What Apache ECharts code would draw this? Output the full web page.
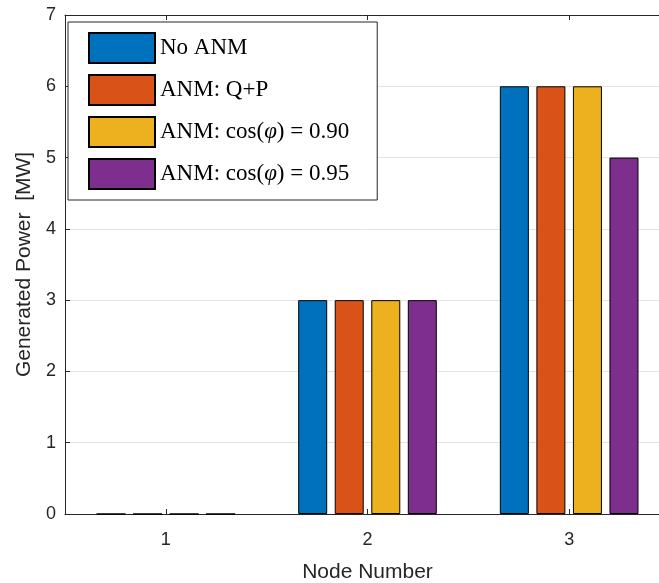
<!DOCTYPE html>
<html>
<head>
<meta charset="utf-8">
<title>Generated Power per Node</title>
<script src="https://cdn.jsdelivr.net/npm/echarts@6/dist/echarts.min.js"></script>
<style>
  html, body { margin: 0; padding: 0; background: #fff; overflow: hidden; }
  #chart { width: 659px; height: 583px; }
</style>
</head>
<body>
<div id="chart"></div>
<script>
// Node numbers on the x axis
const nodes = ['1', '2', '3'];

// Generated power per node [MW] for each control scheme
const noANM = [0, 3, 6];
const anmQP = [0, 3, 6];
const anmCos090 = [0, 3, 6];
const anmCos095 = [0, 3, 5];

const seriesNames = ['No ANM', 'ANM: Q+P', 'ANM: cos(φ) = 0.90', 'ANM: cos(φ) = 0.95'];
const seriesColors = ['#0072BD', '#D95319', '#EDB120', '#7E2F8E'];
const seriesValues = [noANM, anmQP, anmCos090, anmCos095];

const axisColor = '#262626';
const sansFont = 'Liberation Sans, Arial, sans-serif';
const serifFont = 'Liberation Serif, Times New Roman, serif';

const chart = echarts.init(document.getElementById('chart'), null, { renderer: 'canvas' });

chart.setOption({
  animation: false,
  backgroundColor: '#fff',
  // the plot box runs past the right edge of the canvas
  grid: { left: 65, top: 15, width: 605, height: 499, outerBoundsMode: 'none', containLabel: false },
  legend: {
    orient: 'vertical',
    left: 68,
    top: 22,
    padding: [10, 28, 10, 20],
    icon: 'rect',
    itemWidth: 66,
    itemHeight: 30,
    itemGap: 10,
    backgroundColor: '#fff',
    borderColor: '#262626',
    borderWidth: 1,
    data: seriesNames,
    formatter: name => name.replace('φ', '{i|φ}'),
    textStyle: {
      fontFamily: serifFont,
      fontSize: 23,
      lineHeight: 28,
      color: '#000',
      rich: {
        i: { fontFamily: serifFont, fontSize: 23, lineHeight: 28, fontStyle: 'italic', color: '#000' }
      }
    }
  },
  xAxis: [
    {
      type: 'category',
      data: nodes,
      position: 'bottom',
      name: 'Node Number',
      nameLocation: 'middle',
      nameGap: 48,
      nameTextStyle: { fontFamily: sansFont, fontSize: 21, color: axisColor },
      axisLine: { show: true, lineStyle: { color: axisColor, width: 1 } },
      axisTick: { show: true, inside: true, alignWithLabel: true, length: 5, lineStyle: { color: axisColor } },
      axisLabel: { fontFamily: sansFont, fontSize: 18, color: axisColor, margin: 17 },
      splitLine: { show: false }
    },
    {
      type: 'category',
      data: nodes,
      position: 'top',
      axisLine: { show: true, lineStyle: { color: axisColor, width: 1 } },
      axisTick: { show: true, inside: true, alignWithLabel: true, length: 5, lineStyle: { color: axisColor } },
      axisLabel: { show: false },
      splitLine: { show: false }
    }
  ],
  yAxis: {
    type: 'value',
    min: 0,
    max: 7,
    interval: 1,
    name: 'Generated Power  [MW]',
    nameLocation: 'middle',
    nameGap: 27,
    nameTextStyle: { fontFamily: sansFont, fontSize: 21, color: axisColor },
    axisLine: { show: true, lineStyle: { color: axisColor, width: 1 } },
    axisTick: { show: true, inside: true, length: 5, lineStyle: { color: axisColor } },
    axisLabel: { fontFamily: sansFont, fontSize: 18, color: axisColor, margin: 9 },
    splitLine: { show: true, lineStyle: { color: '#e3e3e3', width: 1 } }
  },
  series: seriesNames.map((name, i) => ({
    name: name,
    type: 'bar',
    xAxisIndex: 0,
    data: seriesValues[i],
    barWidth: 29,
    barGap: '26%',
    itemStyle: { color: seriesColors[i], borderColor: '#000', borderWidth: 1 }
  }))
});
</script>
</body>
</html>
